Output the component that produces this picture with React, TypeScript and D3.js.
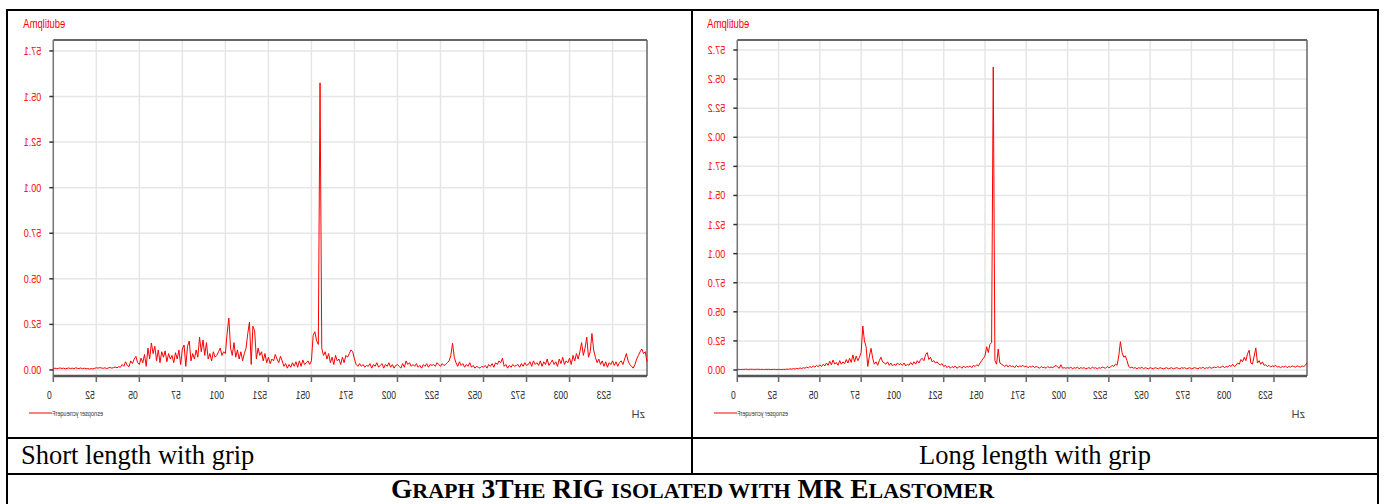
import React from "react";
import { scaleLinear, line } from "d3";

const width = 1386;
const height = 504;

// table rules
const tableLeft = 7;
const tableRight = 1378;
const tableTop = 10;
const dividerX = 692;
const captionTop = 438;
const titleTop = 474;

// plot frame (same for both panels)
const plotTop = 40;
const plotBottom = 376;

// x axis (Hz), one value per Hz from 0 to 345
const freqTicks = [0, 25, 50, 75, 100, 125, 150, 175, 200, 225, 250, 275, 300, 325];
const freqMax = 345;

// Short length with grip
const shortTicks = [0, 0.25, 0.5, 0.75, 1.0, 1.25, 1.5, 1.75];
const shortAmp = [
  0.008, 0.01, 0.007, 0.009, 0.011, 0.008, 0.01, 0.006, 0.009, 0.011,
  0.008, 0.01, 0.007, 0.012, 0.009, 0.008, 0.011, 0.007, 0.01, 0.006,
  0.008, 0.005, 0.007, 0.006, 0.009, 0.012, 0.01, 0.013, 0.011, 0.009,
  0.012, 0.008, 0.011, 0.014, 0.01, 0.013, 0.016, 0.012, 0.018, 0.015,
  0.03, 0.02, 0.045, 0.025, 0.018, 0.05, 0.035, 0.06, 0.075, 0.04,
  0.03, 0.065, 0.04, 0.085, 0.02, 0.12, 0.06, 0.148, 0.09, 0.13,
  0.05, 0.11, 0.04, 0.1, 0.07, 0.105, 0.045, 0.09, 0.06, 0.08,
  0.04, 0.095, 0.06, 0.11, 0.03, 0.115, 0.137, 0.02, 0.13, 0.159,
  0.05, 0.09, 0.06, 0.11, 0.07, 0.18, 0.1, 0.165, 0.08, 0.15,
  0.06, 0.09, 0.05, 0.1, 0.07, 0.08, 0.1, 0.12, 0.08, 0.1,
  0.09, 0.2, 0.285, 0.12, 0.08, 0.15, 0.07, 0.11, 0.06, 0.1,
  0.05, 0.09, 0.12, 0.2, 0.263, 0.03, 0.24, 0.215, 0.06, 0.12,
  0.08, 0.1, 0.05, 0.09, 0.04, 0.07, 0.035, 0.06, 0.05, 0.085,
  0.06, 0.04, 0.075, 0.05, 0.02, 0.035, 0.01, 0.03, 0.015, 0.04,
  0.02, 0.045, 0.015, 0.05, 0.02, 0.055, 0.03, 0.04, 0.05, 0.03,
  0.05, 0.19, 0.21, 0.16, 0.14, 1.575, 0.12, 0.08, 0.1, 0.06,
  0.09, 0.04, 0.07, 0.03, 0.08, 0.05, 0.06, 0.03, 0.07, 0.04,
  0.08, 0.07, 0.09, 0.11, 0.1, 0.06, 0.03, 0.02, 0.035, 0.02,
  0.03, 0.015, 0.025, 0.02, 0.035, 0.01, 0.03, 0.02, 0.04, 0.015,
  0.025, 0.035, 0.01, 0.03, 0.02, 0.04, 0.015, 0.03, 0.01, 0.025,
  0.03, 0.02, 0.01, 0.035, 0.015, 0.05, 0.03, 0.04, 0.02, 0.03,
  0.02, 0.035, 0.015, 0.025, 0.01, 0.03, 0.02, 0.035, 0.015, 0.03,
  0.025, 0.03, 0.02, 0.04, 0.03, 0.02, 0.035, 0.025, 0.03, 0.04,
  0.05, 0.08, 0.146, 0.07, 0.04, 0.02, 0.045, 0.025, 0.035, 0.015,
  0.03, 0.02, 0.04, 0.015, 0.025, 0.01, 0.02, 0.015, 0.01, 0.02,
  0.015, 0.025, 0.01, 0.03, 0.02, 0.035, 0.015, 0.04, 0.03, 0.05,
  0.04, 0.065, 0.02, 0.03, 0.01, 0.025, 0.015, 0.03, 0.02, 0.025,
  0.03, 0.015, 0.035, 0.02, 0.04, 0.025, 0.03, 0.045, 0.02, 0.05,
  0.03, 0.04, 0.025, 0.05, 0.02, 0.045, 0.03, 0.06, 0.025, 0.04,
  0.055, 0.03, 0.045, 0.02, 0.06, 0.035, 0.07, 0.03, 0.05, 0.04,
  0.065, 0.03, 0.08, 0.05, 0.09, 0.06, 0.1, 0.15, 0.08, 0.12,
  0.18, 0.07, 0.1, 0.2, 0.11, 0.07, 0.04, 0.06, 0.03, 0.05,
  0.02, 0.045, 0.015, 0.04, 0.03, 0.05, 0.025, 0.045, 0.02, 0.04,
  0.05, 0.03, 0.06, 0.09, 0.05, 0.03, 0.02, 0.01, 0.03, 0.06,
  0.08, 0.1, 0.115, 0.09, 0.1, 0.045,
];

// Long length with grip
const longTicks = [0, 0.25, 0.5, 0.75, 1.0, 1.25, 1.5, 1.75, 2.0, 2.25, 2.5, 2.75];
const longAmp = [
  0.005, 0.006, 0.004, 0.006, 0.005, 0.007, 0.006, 0.005, 0.007, 0.006,
  0.006, 0.005, 0.007, 0.006, 0.005, 0.006, 0.004, 0.006, 0.005, 0.006,
  0.005, 0.004, 0.006, 0.005, 0.004, 0.006, 0.005, 0.004, 0.006, 0.005,
  0.008, 0.006, 0.01, 0.007, 0.012, 0.008, 0.014, 0.01, 0.018, 0.012,
  0.02, 0.015, 0.025, 0.018, 0.03, 0.02, 0.035, 0.025, 0.04, 0.028,
  0.045, 0.03, 0.05, 0.035, 0.06, 0.04, 0.075, 0.045, 0.086, 0.05,
  0.065, 0.04, 0.08, 0.05, 0.07, 0.055, 0.09, 0.06, 0.1, 0.065,
  0.13, 0.07, 0.12, 0.08, 0.11, 0.15, 0.378, 0.25, 0.2, 0.03,
  0.12, 0.186, 0.1, 0.05, 0.07, 0.04, 0.08, 0.11, 0.07, 0.06,
  0.05, 0.07, 0.04, 0.06, 0.035, 0.05, 0.04, 0.06, 0.045, 0.055,
  0.04, 0.06, 0.035, 0.05, 0.04, 0.065, 0.045, 0.07, 0.05, 0.08,
  0.06, 0.09, 0.1, 0.08, 0.13, 0.15, 0.09, 0.11, 0.07, 0.08,
  0.06, 0.07, 0.05, 0.045, 0.055, 0.03, 0.04, 0.02, 0.035, 0.015,
  0.03, 0.02, 0.035, 0.015, 0.025, 0.03, 0.015, 0.035, 0.02, 0.03,
  0.025, 0.035, 0.02, 0.04, 0.03, 0.045, 0.035, 0.06, 0.08, 0.1,
  0.12, 0.2, 0.15, 0.22, 0.235, 2.603, 0.08, 0.05, 0.18, 0.06,
  0.05, 0.04, 0.03, 0.045, 0.025, 0.04, 0.03, 0.035, 0.02, 0.04,
  0.025, 0.035, 0.03, 0.04, 0.025, 0.035, 0.02, 0.03, 0.025, 0.035,
  0.02, 0.03, 0.025, 0.015, 0.03, 0.02, 0.025, 0.015, 0.03, 0.02,
  0.025, 0.02, 0.03, 0.04, 0.025, 0.015, 0.045, 0.015, 0.02, 0.015,
  0.02, 0.015, 0.025, 0.01, 0.02, 0.015, 0.025, 0.01, 0.02, 0.015,
  0.02, 0.01, 0.015, 0.02, 0.01, 0.025, 0.015, 0.02, 0.01, 0.02,
  0.015, 0.025, 0.02, 0.015, 0.03, 0.02, 0.025, 0.04, 0.03, 0.05,
  0.04, 0.12, 0.243, 0.15, 0.11, 0.12, 0.08, 0.03, 0.02, 0.025,
  0.015, 0.02, 0.01, 0.02, 0.015, 0.025, 0.01, 0.02, 0.015, 0.01,
  0.02, 0.015, 0.01, 0.02, 0.015, 0.01, 0.02, 0.015, 0.01, 0.015,
  0.02, 0.01, 0.015, 0.02, 0.01, 0.015, 0.02, 0.015, 0.01, 0.02,
  0.015, 0.02, 0.01, 0.015, 0.02, 0.01, 0.015, 0.02, 0.015, 0.01,
  0.02, 0.015, 0.025, 0.01, 0.02, 0.015, 0.025, 0.015, 0.02, 0.025,
  0.02, 0.03, 0.02, 0.025, 0.035, 0.02, 0.03, 0.025, 0.04, 0.03,
  0.05, 0.03, 0.04, 0.06, 0.05, 0.09, 0.07, 0.11, 0.08, 0.14,
  0.17, 0.06, 0.05, 0.12, 0.19, 0.06, 0.08, 0.05, 0.07, 0.04,
  0.045, 0.03, 0.04, 0.025, 0.035, 0.03, 0.04, 0.025, 0.03, 0.02,
  0.03, 0.025, 0.035, 0.02, 0.03, 0.025, 0.035, 0.03, 0.025, 0.035,
  0.03, 0.025, 0.035, 0.03, 0.04, 0.06,
];

const captions = ["Short length with grip", "Long length with grip"];

// title in small caps: [text, isCapital]
const titleParts = [
  ["G", true], ["RAPH", false], [" 3T", true], ["HE", false], [" RIG ", true],
  ["ISOLATED WITH", false], [" MR E", true], ["LASTOMER", false],
];

const sans = "'Liberation Sans', Arial, sans-serif";
const serif = "'Liberation Serif', 'Times New Roman', serif";

// the chart's text comes out with every glyph mirrored in place:
// reverse the string, then mirror the whole run
const flip = (s) => s.split("").reverse().join("");

const Panel = ({ cellLeft, plotLeft, plotRight, yMin, yMax, ticks, amps }) => {
  const xScale = scaleLinear().domain([0, freqMax]).range([plotLeft, plotRight]);
  const yScale = scaleLinear().domain([yMin, yMax]).range([plotBottom, plotTop]);
  const path = line()
    .x((d, i) => xScale(i))
    .y((d) => yScale(d))(amps);

  return (
    <g>
      {/* grid */}
      {freqTicks.map((t) => (
        <line key={"gx" + t} x1={xScale(t)} x2={xScale(t)} y1={plotTop} y2={plotBottom}
          stroke="#e6e6e6" strokeWidth={1.5} />
      ))}
      {ticks.map((t) => (
        <line key={"gy" + t} x1={plotLeft} x2={plotRight} y1={yScale(t)} y2={yScale(t)}
          stroke="#e6e6e6" strokeWidth={1.5} />
      ))}

      {/* frame */}
      <line x1={plotLeft} x2={plotRight} y1={plotTop} y2={plotTop} stroke="#333" strokeWidth={1.5} />
      <line x1={plotRight} x2={plotRight} y1={plotTop} y2={plotBottom} stroke="#666" strokeWidth={1.5} />
      <line x1={plotLeft} x2={plotLeft} y1={plotTop} y2={plotBottom} stroke="#777" strokeWidth={1.5} />
      <line x1={plotLeft} x2={plotRight} y1={plotBottom} y2={plotBottom} stroke="#555" strokeWidth={2.5} />

      {/* y axis */}
      {ticks.map((t) => (
        <g key={"ty" + t}>
          <line x1={plotLeft - 4} x2={plotLeft} y1={yScale(t)} y2={yScale(t)} stroke="#333" strokeWidth={1.5} />
          <text transform={`translate(${plotLeft - 12},${yScale(t) + 4}) scale(-0.82,1)`}
            fontFamily={sans} fontSize={11} fill="#ff0000">
            {flip(t.toFixed(2))}
          </text>
        </g>
      ))}
      <text transform={`translate(${plotLeft + 12},28) scale(-1,1)`} fontFamily={sans} fontSize={12}
        fill="#ff0000" textLength={42} lengthAdjust="spacingAndGlyphs">
        {flip("Amplitude")}
      </text>

      {/* x axis */}
      {freqTicks.map((t) => (
        <g key={"tx" + t}>
          <line x1={xScale(t)} x2={xScale(t)} y1={plotBottom} y2={plotBottom + 6} stroke="#666" strokeWidth={1.5} />
          <text transform={`translate(${xScale(t) - 1.5},399) scale(-0.78,1)`}
            fontFamily={sans} fontSize={11} fill="#222">
            {flip(String(t))}
          </text>
        </g>
      ))}
      <text transform={`translate(${plotRight - 2},418) scale(-1,1)`} fontFamily={sans} fontSize={11} fill="#444">
        {flip("Hz")}
      </text>

      {/* data */}
      <path d={path} fill="none" stroke="#ff0000" strokeWidth={1} />

      {/* legend */}
      <line x1={cellLeft + 22} x2={cellLeft + 45} y1={413} y2={413} stroke="#ff0000" strokeWidth={1} />
      <text transform={`translate(${cellLeft + 96},416) scale(-1,1)`} fontFamily={sans} fontSize={7}
        fill="#333" textLength={51} lengthAdjust="spacingAndGlyphs">
        {flip("Frequency response")}
      </text>
    </g>
  );
};

export default function App() {
  return (
    <svg width={width} height={height} style={{ position: "absolute", left: 0, top: 0, background: "#fff" }}>
      <Panel cellLeft={tableLeft} plotLeft={53.3} plotRight={647} yMin={-0.033} yMax={1.81}
        ticks={shortTicks} amps={shortAmp} />
      <Panel cellLeft={dividerX} plotLeft={737.3} plotRight={1307} yMin={-0.0516} yMax={2.836}
        ticks={longTicks} amps={longAmp} />

      {/* table rules */}
      <g stroke="#000" strokeWidth={2}>
        <line x1={tableLeft} x2={tableLeft} y1={tableTop - 1} y2={height} />
        <line x1={tableRight} x2={tableRight} y1={tableTop - 1} y2={height} />
        <line x1={tableLeft} x2={tableRight} y1={tableTop} y2={tableTop} />
        <line x1={dividerX} x2={dividerX} y1={tableTop} y2={titleTop} />
        <line x1={tableLeft} x2={tableRight} y1={captionTop} y2={captionTop} />
        <line x1={tableLeft} x2={tableRight} y1={titleTop} y2={titleTop} />
      </g>

      <text x={21} y={464} fontFamily={serif} fontSize={26.5} fill="#000">{captions[0]}</text>
      <text x={(dividerX + tableRight) / 2} y={464} textAnchor="middle" fontFamily={serif} fontSize={26.5}
        fill="#000">{captions[1]}</text>

      <text x={(tableLeft + tableRight) / 2} y={498} textAnchor="middle" fontFamily={serif} fontWeight="bold"
        fill="#000">
        {titleParts.map(([s, big], i) => (
          <tspan key={i} fontSize={big ? 27.5 : 22}>{s}</tspan>
        ))}
      </text>
    </svg>
  );
}
